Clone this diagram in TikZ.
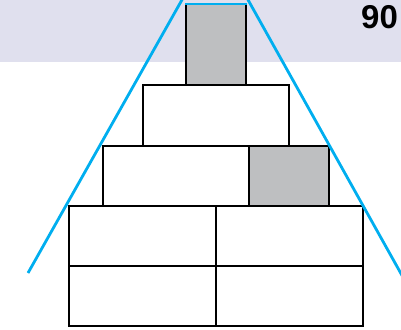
\documentclass[tikz,border=0pt]{standalone}
\usepackage{fontspec}
\setmainfont{Liberation Sans}
\usetikzlibrary{positioning}
\definecolor{BandLilac}{HTML}{E0E0EE}
\definecolor{BlockGray}{HTML}{BEBFC1}
\definecolor{GuideBlue}{HTML}{00AEEF}
\tikzset{
  block/.style={draw=black, line width=1.5pt, fill=white, inner sep=0pt,
                anchor=north west, minimum height=60pt},
  shaded/.style={block, fill=BlockGray},
  guide/.style={draw=GuideBlue, line width=2.8pt}
}

\begin{document}
\begin{tikzpicture}[x=1pt, y=-1pt]
  \useasboundingbox (0,0) rectangle (401,329);
  \clip (0,0) rectangle (401,329);
  \fill[BandLilac] (0,0) rectangle (401,62);

  % stacked blocks, top to bottom
  \node[shaded, minimum width=60pt, minimum height=80pt] (top) at (185,4) {};
  \node[block, minimum width=146pt, minimum height=61pt] (rowb) at (142,84) {};
  \node[block, minimum width=146pt] (rowcl) at (102,145) {};
  \node[shaded, minimum width=80pt] (rowcr) at (248,145) {};
  \node[block, minimum width=147pt] (rowdl) at (68,205) {};
  \node[block, minimum width=147pt] (rowdr) at (215,205) {};
  \node[block, minimum width=147pt] (rowel) at (68,265) {};
  \node[block, minimum width=147pt] (rower) at (215,265) {};

  % guide lines
  \coordinate (gl) at (28,273);
  \coordinate (gr) at (404,279);
  \coordinate (tl) at (183,-2);
  \coordinate (tr) at (247,-2);
  \draw[guide] (gl) -- (tl);
  \draw[guide] (tr) -- (gr);
  \draw[guide] (top.north west) -- (top.north east);

  \node[anchor=north west, inner sep=0pt, font=\fontsize{33}{35}\selectfont\bfseries]
    (label) at (361,5) {90};
\end{tikzpicture}
\end{document}
